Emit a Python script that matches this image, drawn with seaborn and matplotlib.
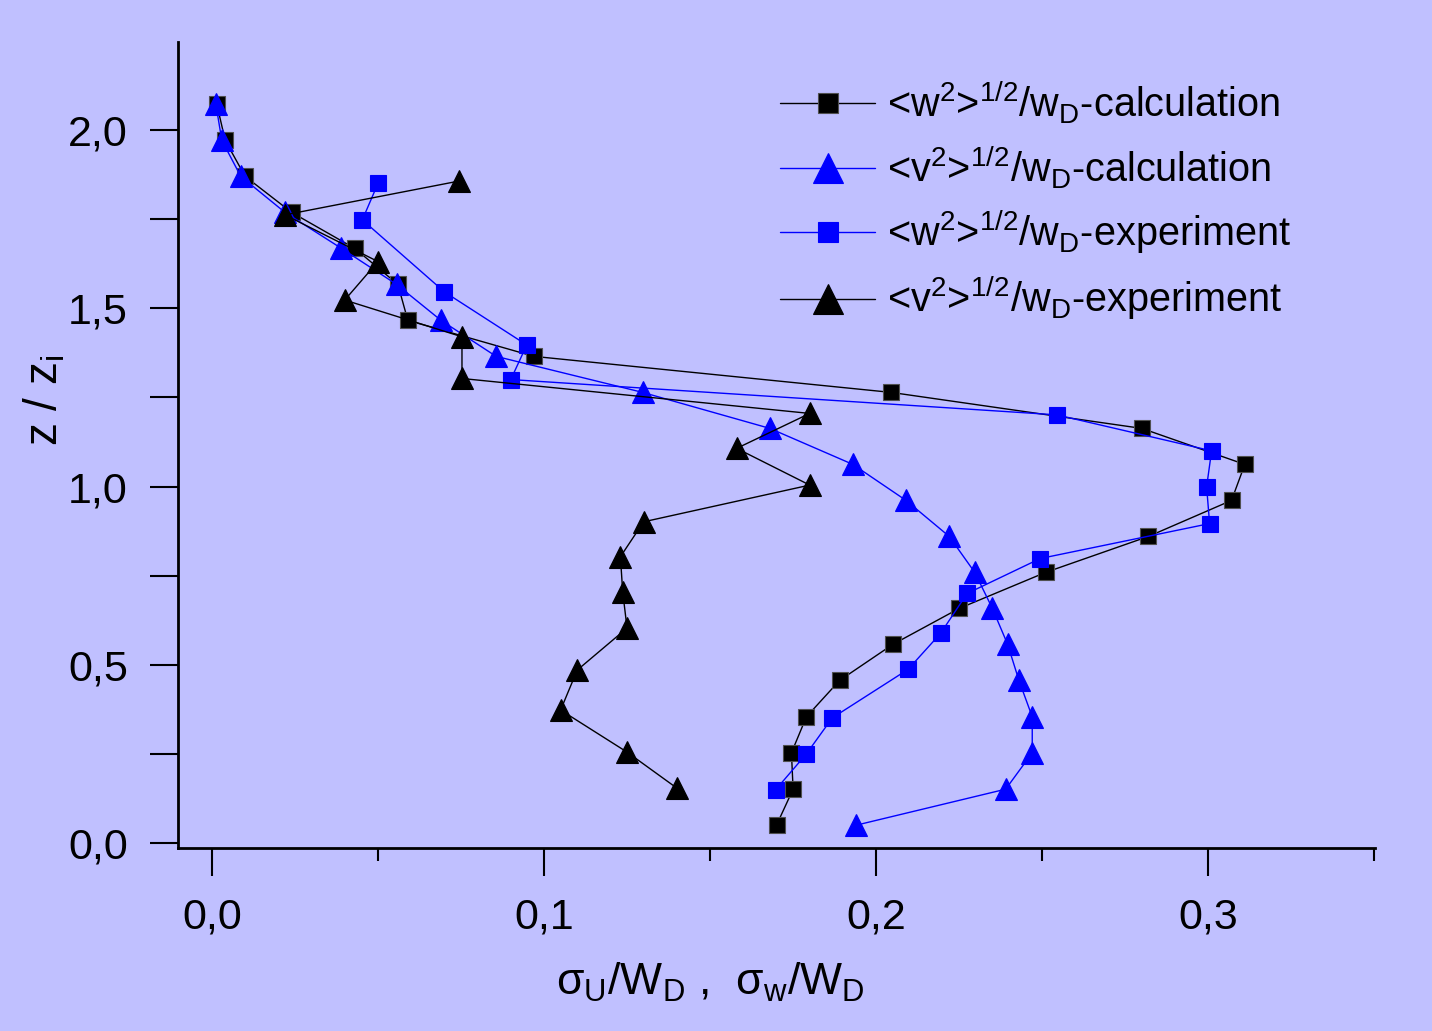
import matplotlib
matplotlib.use("Agg")
import matplotlib.pyplot as plt
import seaborn as sns
from matplotlib.ticker import MultipleLocator, FuncFormatter

# ---- data: normalised height z/zi and normalised velocity fluctuations ----
z_calc = [0.050, 0.151, 0.253, 0.354, 0.456, 0.557, 0.658, 0.759, 0.860, 0.961,
          1.062, 1.163, 1.264, 1.365, 1.466, 1.567, 1.668, 1.769, 1.870, 1.971, 2.072]
w_calc = [0.170, 0.175, 0.1745, 0.179, 0.189, 0.205, 0.225, 0.251, 0.282, 0.307,
          0.311, 0.280, 0.2045, 0.097, 0.059, 0.056, 0.043, 0.024, 0.010, 0.004, 0.0015]
v_calc = [0.194, 0.239, 0.247, 0.247, 0.243, 0.2396, 0.235, 0.2297, 0.222, 0.209,
          0.193, 0.168, 0.1297, 0.0856, 0.069, 0.0556, 0.039, 0.022, 0.0087, 0.003, 0.0012]

z_w_exp = [0.149, 0.250, 0.351, 0.487, 0.588, 0.700, 0.798, 0.896, 0.999, 1.100,
           1.201, 1.300, 1.397, 1.546, 1.748, 1.850]
w_exp = [0.1697, 0.179, 0.1868, 0.2096, 0.2194, 0.2274, 0.2494, 0.3004, 0.2995, 0.301,
         0.2544, 0.090, 0.0948, 0.070, 0.0453, 0.050]

z_v_exp = [0.154, 0.255, 0.373, 0.485, 0.603, 0.704, 0.803, 0.901, 1.004, 1.107,
           1.205, 1.303, 1.420, 1.523, 1.631, 1.762, 1.857]
v_exp = [0.140, 0.125, 0.105, 0.110, 0.125, 0.1237, 0.123, 0.130, 0.180, 0.158,
         0.180, 0.0753, 0.0753, 0.040, 0.050, 0.022, 0.0745]

labels = [
    r"<w$^{2}$>$^{1/2}$/w$_{D}$-calculation",
    r"<v$^{2}$>$^{1/2}$/w$_{D}$-calculation",
    r"<w$^{2}$>$^{1/2}$/w$_{D}$-experiment",
    r"<v$^{2}$>$^{1/2}$/w$_{D}$-experiment",
]

BG = "#C0C0FF"

sns.set_theme(style="ticks")
plt.rcParams["font.family"] = ["Liberation Sans", "DejaVu Sans"]
plt.rcParams["mathtext.default"] = "regular"

fig = plt.figure(figsize=(14.32, 10.31), dpi=100, facecolor=BG)
ax = fig.add_axes([0.1243, 0.1775, 0.8359, 0.7818], facecolor=BG)

series = [
    (w_calc, z_calc, "black", "s", 11.5, "#505050"),
    (v_calc, z_calc, "#0000FF", "^", 16.5, "#0000FF"),
    (w_exp, z_w_exp, "#0000FF", "s", 11.5, "#0000FF"),
    (v_exp, z_v_exp, "black", "^", 16.5, "black"),
]
for (xv, zv, col, mk, ms, mec), lab in zip(series, labels):
    sns.lineplot(x=xv, y=zv, sort=False, estimator=None, orient="y", ax=ax,
                 color=col, marker=mk, markersize=ms, markeredgecolor=mec,
                 markeredgewidth=0.8, linewidth=1.0, label=lab)

ax.set_xlim(-0.0102, 0.3502)
ax.set_ylim(-0.014, 2.247)

for side in ("top", "right"):
    ax.spines[side].set_visible(False)
for side in ("left", "bottom"):
    ax.spines[side].set_linewidth(2.0)
    ax.spines[side].set_color("black")

comma = FuncFormatter(lambda v, p: f"{v:.1f}".replace(".", ","))
ax.xaxis.set_major_locator(MultipleLocator(0.1))
ax.xaxis.set_minor_locator(MultipleLocator(0.05))
ax.yaxis.set_major_locator(MultipleLocator(0.5))
ax.yaxis.set_minor_locator(MultipleLocator(0.25))
ax.xaxis.set_major_formatter(comma)
ax.yaxis.set_major_formatter(comma)

ax.tick_params(axis="x", which="major", length=20, width=1.5, pad=16,
               labelsize=31, direction="out", color="black", labelcolor="black")
ax.tick_params(axis="x", which="minor", length=9.5, width=1.5, direction="out", color="black")
ax.tick_params(axis="y", which="both", length=20, width=1.5, pad=16,
               labelsize=31, direction="out", color="black", labelcolor="black")

ax.set_xlabel(r"σ$_{U}$/W$_{D}$ ,  σ$_{w}$/W$_{D}$", fontsize=32, color="black")
ax.set_ylabel(r"z / z$_{i}$", fontsize=33, color="black")
ax.xaxis.set_label_coords(0.445, -0.14)
ax.yaxis.set_label_coords(-0.092, 0.556)

handles, _ = ax.get_legend_handles_labels()
ax.legend(handles, labels, loc="upper left", bbox_to_anchor=(0.503, 0.955),
          frameon=False, fontsize=28.5, handlelength=2.4, handletextpad=0.3,
          labelspacing=0.45, borderpad=0, borderaxespad=0, numpoints=1,
          markerscale=1.3, labelcolor="black")

fig.savefig("out.png", dpi=100, facecolor=BG)
